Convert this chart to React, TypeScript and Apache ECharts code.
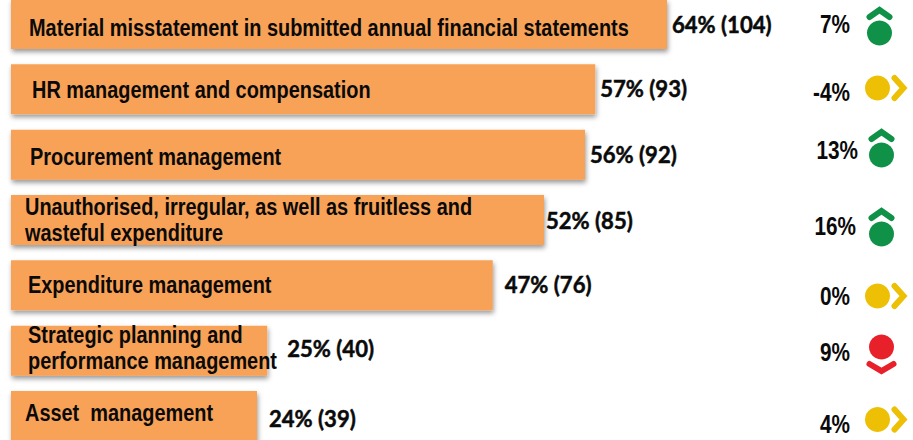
import React, { useEffect, useRef } from "react";
import * as echarts from "echarts";

const categories = [
  "Material misstatement in submitted annual financial statements",
  "HR management and compensation",
  "Procurement management",
  "Unauthorised, irregular, as well as fruitless and\nwasteful expenditure",
  "Expenditure management",
  "Strategic planning and\nperformance management",
  "Asset  management",
];
const percents = [64, 57, 56, 52, 47, 25, 24];
const counts = [104, 93, 92, 85, 76, 40, 39];
const changes = [7, -4, 13, 16, 0, 9, 4];
const trends = ["up", "flat", "up", "up", "flat", "down", "flat"];

const nameOffsets = [[18, 4], [21, 1], [19, 2], [14, 0], [17, 0], [17, -3], [14, -3]];
const valueOffsets = [[5, 0], [5, -1], [5, 0], [2, 0], [12, -1], [20, -2], [12, 2]];
const changeRight = [850, 850, 858, 856, 850, 850, 850];
const changeY = [24, 92, 150, 226, 296, 352, 424];
const iconCenter = [[879.5, 33], [877.5, 88], [881.5, 155], [881.5, 234], [877.5, 296], [881.5, 347], [877.5, 419.5]];

const SANS = "'Liberation Sans', Arial, sans-serif";
const LATO = "Lato, 'Liberation Sans', sans-serif";
const INK = "#0a0a0a";
const COLORS: Record<string, string> = { up: "#0f9147", flat: "#edbf05", down: "#e8202a" };

function chevron(trend: string) {
  if (trend === "up") return [[-10, -16], [0, -23], [10, -16]];
  if (trend === "down") return [[-12, 17], [0, 24], [12, 17]];
  return [[17, -10], [26, 0], [17, 10]];
}

function squeezedText(x: number, y: number, text: string, size: number, scaleX: number, align: string, family = SANS, heavy = 0) {
  return {
    type: "text",
    x,
    y,
    scaleX,
    z2: 10,
    style: {
      x: 0,
      y: 0,
      text,
      fill: INK,
      stroke: heavy ? INK : undefined,
      lineWidth: heavy,
      font: `bold ${size}px ${family}`,
      lineHeight: size + 2,
      align,
      verticalAlign: "middle",
    },
  };
}

export default function App() {
  const ref = useRef<HTMLDivElement>(null);
  useEffect(() => {
    const chart = echarts.init(ref.current!, undefined, { renderer: "svg" });
    chart.setOption({
      animation: false,
      grid: { left: 11, top: -8.67, width: 902, height: 457.3, containLabel: false, outerBoundsMode: "none" },
      xAxis: { type: "value", min: 0, max: 88, show: false },
      yAxis: { type: "category", inverse: true, data: categories, show: false },
      series: [
        {
          type: "bar",
          z: 1,
          barWidth: 50,
          data: percents,
          itemStyle: {
            color: "#f8a259",
            shadowColor: "rgba(0,0,0,0.4)",
            shadowBlur: 5,
            shadowOffsetX: 1,
            shadowOffsetY: 3,
          },
        },
        {
          type: "custom",
          z: 5,
          silent: true,
          data: changes.map((c, i) => [percents[i], i, c]),
          encode: { x: 0, y: 1 },
          clip: false,
          renderItem: (params: any, api: any) => {
            const i = params.dataIndex;
            const [cx, cy] = iconCenter[i];
            const t = trends[i];
            const start = api.coord([0, i]);
            const end = api.coord([api.value(0), i]);
            return {
              type: "group",
              children: [
                squeezedText(start[0] + nameOffsets[i][0], start[1] + nameOffsets[i][1], categories[i], 24, 0.83, "left"),
                squeezedText(end[0] + valueOffsets[i][0], end[1] + valueOffsets[i][1], `${percents[i]}% (${counts[i]})`, 23, 0.96, "left", LATO, 0.5),
                squeezedText(changeRight[i], changeY[i], `${api.value(2)}%`, 25, 0.83, "right"),
                {
                  type: "circle",
                  shape: { cx, cy, r: 12.5 },
                  style: { fill: COLORS[t] },
                },
                {
                  type: "polyline",
                  shape: { points: chevron(t).map(([dx, dy]) => [cx + dx, cy + dy]) },
                  style: { fill: "none", stroke: COLORS[t], lineWidth: 6, lineCap: "round", lineJoin: "miter" },
                },
              ],
            };
          },
        },
      ],
    });
    return () => chart.dispose();
  }, []);
  return <div ref={ref} style={{ width: 913, height: 440, position: "absolute", left: 0, top: 0, overflow: "hidden", background: "#fff" }} />;
}
